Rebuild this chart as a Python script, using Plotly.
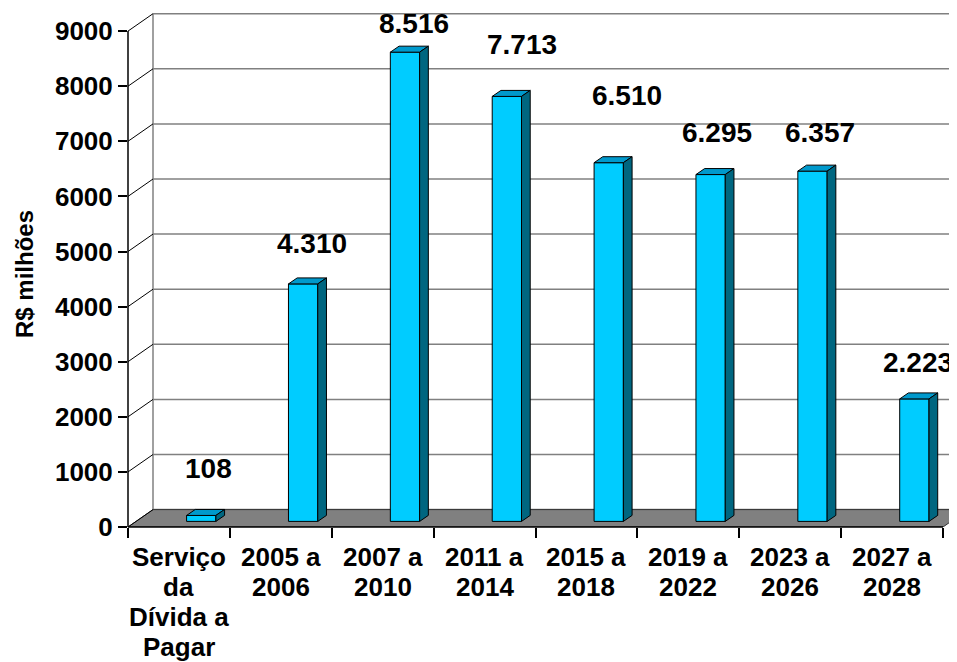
import plotly.graph_objects as go

# ---------------- data ----------------
categories = ["Serviço\nda\nDívida a\nPagar", "2005 a\n2006", "2007 a\n2010", "2011 a\n2014",
              "2015 a\n2018", "2019 a\n2022", "2023 a\n2026", "2027 a\n2028"]
values = [108, 4310, 8516, 7713, 6510, 6295, 6357, 2223]
y_ticks = [0, 1000, 2000, 3000, 4000, 5000, 6000, 7000, 8000, 9000]
y_title = "R$ milhões"

# label placement (pixels, relative to the top-front centre of each bar)
label_dx_px = [6.8, 8.4, 9.5, 14.7, 18.3, 6.4, 7.5, 3.2]
label_dy_px = [47.4, 40.4, 28.9, 52.4, 67.2, 42.5, 39.1, 36.4]

# ---------------- geometry / style ----------------
PAGE_OFF = 8                      # default body margin of the html page
W, H = 957 - PAGE_OFF, 662 - PAGE_OFF
ML, MR, MT, MB = 128 - PAGE_OFF, 0, 13 - PAGE_OFF, 135
CAT_PX = 101.875          # pixels per category
VAL_PX = 0.0551           # pixels per value unit
plot_w = W - ML - MR
plot_h = H - MT - MB
x_range = [-0.5, -0.5 + plot_w / CAT_PX]
y_range = [0, plot_h / VAL_PX]


def dx(px):
    return px / CAT_PX


def dy(px):
    return px / VAL_PX


FLOOR_DX, FLOOR_DY = dx(25), dy(17.4)
BAR_SHIFT, BAR_HALF, BAR_BASE = dx(22.3), dx(14.65), dy(5.6)
BAR_DX, BAR_DY = dx(8.7), dy(6)

FRONT = "#00CCFF"
TOP = "#0099CC"
SIDE = "#006680"
GRID = "#808080"
FONT = "Liberation Sans, Arial, sans-serif"

n = len(values)
fig = go.Figure()

# front faces
fig.add_trace(go.Bar(
    x=list(range(n)), y=values, base=BAR_BASE,
    width=2 * BAR_HALF, offset=BAR_SHIFT - BAR_HALF,
    marker=dict(color=FRONT, line=dict(color="black", width=1)),
    hoverinfo="skip", showlegend=False))

# top and side faces
tx, ty, sx, sy = [], [], [], []
for i, v in enumerate(values):
    L = i + BAR_SHIFT - BAR_HALF
    R = i + BAR_SHIFT + BAR_HALF
    top = BAR_BASE + v
    tx += [L, R, R + BAR_DX, L + BAR_DX, L, None]
    ty += [top, top, top + BAR_DY, top + BAR_DY, top, None]
    sx += [R, R, R + BAR_DX, R + BAR_DX, R, None]
    sy += [BAR_BASE, top, top + BAR_DY, BAR_BASE + BAR_DY, BAR_BASE, None]

fig.add_trace(go.Scatter(x=tx, y=ty, mode="lines", fill="toself", fillcolor=TOP,
                         line=dict(color="black", width=1), hoverinfo="skip", showlegend=False))
fig.add_trace(go.Scatter(x=sx, y=sy, mode="lines", fill="toself", fillcolor=SIDE,
                         line=dict(color="black", width=1), hoverinfo="skip", showlegend=False))

# ---------------- walls, floor, gridlines ----------------
shapes = []
back_left = x_range[0] + FLOOR_DX
for v in y_ticks:
    shapes.append(dict(type="line", xref="x", yref="y", layer="below",
                       x0=back_left, x1=x_range[1] + 1, y0=v + FLOOR_DY, y1=v + FLOOR_DY,
                       line=dict(color=GRID, width=1.5)))
shapes.append(dict(type="line", xref="x", yref="y", layer="below",
                   x0=back_left, x1=back_left, y0=FLOOR_DY, y1=y_ticks[-1] + FLOOR_DY,
                   line=dict(color=GRID, width=1.5)))
xf0, xf1 = x_range[0], n - 0.5
floor_path = (f"M {xf0},0 L {xf1},0 L {xf1 + FLOOR_DX},{FLOOR_DY} "
              f"L {xf0 + FLOOR_DX},{FLOOR_DY} Z")
shapes.append(dict(type="path", xref="x", yref="y", layer="below", path=floor_path,
                   fillcolor=GRID, line=dict(color="#333333", width=1)))
for v in y_ticks:
    shapes.append(dict(type="line", xref="x", yref="y", layer="below",
                       x0=x_range[0], x1=back_left, y0=v, y1=v + FLOOR_DY,
                       line=dict(color="black", width=1)))
# front axis lines (paper coordinates derived from the axis ranges)
span_x = x_range[1] - x_range[0]
shapes.append(dict(type="line", xref="paper", yref="paper", x0=0, x1=0,
                   y0=0, y1=y_ticks[-1] / y_range[1], line=dict(color="black", width=1.5)))
shapes.append(dict(type="line", xref="paper", yref="paper", x0=0, x1=(xf1 - x_range[0]) / span_x,
                   y0=0, y1=0, line=dict(color="black", width=1.5)))

# ---------------- annotations ----------------
annotations = []
for i, v in enumerate(values):
    annotations.append(dict(
        x=i + BAR_SHIFT, y=BAR_BASE + v, xref="x", yref="y",
        xshift=label_dx_px[i], yshift=label_dy_px[i],
        text="<b>" + f"{v:,}".replace(",", ".") + "</b>",
        showarrow=False, xanchor="center", yanchor="middle",
        font=dict(family=FONT, size=28, color="black")))
for i, cat in enumerate(categories):
    for k, line in enumerate(cat.split("\n")):
        annotations.append(dict(
            x=i, y=0, xref="x", yref="y", yshift=-(29.5 + 30.2 * k),
            text="<b>" + line + "</b>", showarrow=False,
            xanchor="center", yanchor="middle",
            font=dict(family=FONT, size=26, color="black")))
annotations.append(dict(
    x=0, y=(H - MB - (274 - PAGE_OFF)) / plot_h, xref="paper", yref="paper",
    xshift=-(ML - (24 - PAGE_OFF)),
    text="<b>" + y_title + "</b>", textangle=-90, showarrow=False,
    xanchor="center", yanchor="middle",
    font=dict(family=FONT, size=24, color="black")))

fig.update_layout(
    template="none",
    width=W, height=H,
    margin=dict(l=ML, r=MR, t=MT, b=MB, pad=0),
    paper_bgcolor="white", plot_bgcolor="white",
    showlegend=False,
    shapes=shapes, annotations=annotations,
    xaxis=dict(range=x_range, autorange=False, showgrid=False, zeroline=False,
               showline=False, tickmode="array",
               tickvals=[k - 0.5 for k in range(n + 1)], ticktext=[""] * (n + 1),
               ticks="outside", ticklen=10, tickwidth=1.5, tickcolor="black",
               showticklabels=False, automargin=False, fixedrange=True),
    yaxis=dict(range=y_range, autorange=False, showgrid=False, zeroline=False,
               showline=False, tickmode="array", tickvals=y_ticks,
               ticktext=[str(t) for t in y_ticks],
               ticks="outside", ticklen=9, tickwidth=1.5, tickcolor="black",
               tickfont=dict(family=FONT, size=26, color="black", weight="bold"),
               automargin=False, fixedrange=True),
)

fig.write_html("out.html")
